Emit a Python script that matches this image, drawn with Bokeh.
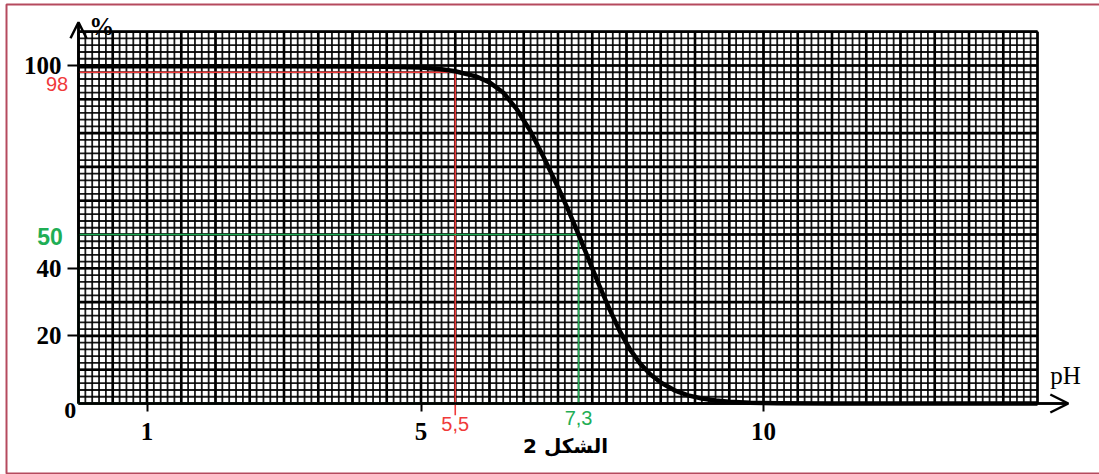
import numpy as np
from bokeh.plotting import figure
from bokeh.models import Range1d, LinearAxis, FixedTicker, Arrow, OpenHead, BoxAnnotation
from bokeh.core.properties import value
from bokeh.embed import file_html
from bokeh.resources import INLINE

# ---- data ----
ph = [0, 1, 2, 3, 4, 4.5, 5.0, 5.3, 5.5, 5.8, 6.0, 6.2, 6.4, 6.6, 6.8, 7.0, 7.15,
      7.3, 7.45, 7.6, 7.75, 7.9, 8.05, 8.2, 8.35, 8.5, 8.7, 8.9, 9.1, 9.3, 9.5,
      9.8, 10.2, 11, 12, 13, 14]
pct = [99.8, 99.8, 99.8, 99.8, 99.7, 99.6, 99.4, 98.9, 98.3, 96.8, 95.0, 92.0,
       87.0, 80.5, 72.5, 64.0, 57.2, 50.0, 42.5, 35.0, 28.0, 21.5, 16.0, 11.8,
       8.6, 6.2, 3.9, 2.4, 1.5, 0.9, 0.5, 0.25, 0.1, 0, 0, 0, 0]

x_ticks = [1, 5, 10]
y_ticks = [20, 40, 100]
ph_98, pct_98 = 5.5, 98      # red reading
ph_50, pct_50 = 7.3, 50      # green reading
ph_max, pct_max = 14, 110    # graph paper extent

RED = "#f03a3a"
GREEN = "#1fae55"
BORDER = "#b54a5e"

W, H = 1099, 474
PX_X, PX_Y = 68.5, 3.38
x0 = -78 / PX_X
y1 = 403 / PX_Y
p = figure(width=W, height=H,
           x_range=Range1d(x0, x0 + W / PX_X),
           y_range=Range1d(y1 - H / PX_Y, y1),
           output_backend="svg", toolbar_location=None,
           x_axis_location=None, y_axis_location=None,
           min_border=0, outline_line_color=None,
           background_fill_color="white", border_fill_color="white")
p.xgrid.visible = False
p.ygrid.visible = False

# page frame
p.add_layout(BoxAnnotation(left=6, right=W + 10, top=1, bottom=470,
                           left_units="screen", right_units="screen",
                           top_units="screen", bottom_units="screen",
                           fill_alpha=0, line_color=BORDER, line_alpha=1.0,
                           line_width=2))

# ---- graph paper (mm paper: 0.1 pH and 2 % per mm) ----
gx_minor = np.arange(0, ph_max + 1e-9, 0.1)
gy_minor = np.arange(0, pct_max + 1e-9, 2)
p.segment(x0=gx_minor, y0=0, x1=gx_minor, y1=pct_max, line_color="black",
          line_alpha=0.9, line_width=1.8)
p.segment(x0=0, y0=gy_minor, x1=ph_max, y1=gy_minor, line_color="black",
          line_alpha=0.9, line_width=1.8)
gx_half = np.arange(0, ph_max + 1e-9, 0.5)
gy_half = np.append(np.arange(0, pct_max + 1e-9, 10), pct_max)
p.segment(x0=gx_half, y0=0, x1=gx_half, y1=pct_max, line_color="black",
          line_width=2.6)
p.segment(x0=0, y0=gy_half, x1=ph_max, y1=gy_half, line_color="black",
          line_width=2.6)

# ---- reading lines ----
p.line([0, ph_98, ph_98], [pct_98, pct_98, -3.5], line_color=RED, line_width=1.6)
p.line([0, ph_50, ph_50, 0, 0], [pct_50, pct_50, 0, 0, pct_50],
       line_color=GREEN, line_width=1.6)

# ---- curve ----
p.line(ph, pct, line_color="black", line_width=4.5, line_join="round")

# ---- axes ----
lab_font = value("Liberation Serif")
xaxis = LinearAxis(fixed_location=0, ticker=FixedTicker(ticks=x_ticks),
                   bounds=(0, 14.4), axis_line_width=2.5, axis_line_color="black",
                   major_tick_out=8, major_tick_in=0, major_tick_line_width=2,
                   minor_tick_line_color=None, major_label_standoff=11,
                   major_label_text_font="Liberation Serif",
                   major_label_text_font_style="bold",
                   major_label_text_font_size="25px",
                   major_label_text_color="black")
p.add_layout(xaxis, "below")
yaxis = LinearAxis(fixed_location=0, ticker=FixedTicker(ticks=y_ticks),
                   bounds=(0, 112), axis_line_width=2.5, axis_line_color="black",
                   major_tick_out=11, major_tick_in=0, major_tick_line_width=2,
                   minor_tick_line_color=None, major_label_standoff=6,
                   major_label_text_font="Liberation Serif",
                   major_label_text_font_style="bold",
                   major_label_text_font_size="25px",
                   major_label_text_color="black")
p.add_layout(yaxis, "left")

p.add_layout(Arrow(end=OpenHead(size=16, line_width=2.5, line_color="black"),
                   x_start=0, y_start=pct_max, x_end=0, y_end=112.8,
                   line_width=2.5, line_color="black"))
p.add_layout(Arrow(end=OpenHead(size=18, line_width=2.5, line_color="black"),
                   x_start=ph_max, y_start=0, x_end=14.45, y_end=0,
                   line_width=2.5, line_color="black"))

# ---- texts ----
p.text(x=[-0.12], y=[-2.1], text=["0"], text_font=lab_font, text_font_style="bold",
       text_font_size="24px", text_align="center", text_baseline="middle")
p.text(x=[0.34], y=[111.5], text=["%"], text_font=lab_font, text_font_style="bold",
       text_font_size="25px", text_align="center", text_baseline="middle")
p.text(x=[14.41], y=[8.3], text=["pH"], text_font=lab_font,
       text_font_size="25px", text_align="center", text_baseline="middle")
p.text(x=[-0.15], y=[94.4], text=["98"], text_font=value("Liberation Sans"),
       text_font_size="20px", text_color=RED, text_align="right", text_baseline="middle")
p.text(x=[-0.23], y=[49.3], text=["50"], text_font=value("Liberation Sans"),
       text_font_style="bold", text_font_size="23px", text_color=GREEN,
       text_align="right", text_baseline="middle")
p.text(x=[ph_98], y=[-6.2], text=["5,5"], text_font=value("Liberation Sans"),
       text_font_size="20px", text_color=RED, text_align="center", text_baseline="middle")
p.text(x=[ph_50], y=[-4.4], text=["7,3"], text_font=value("Liberation Sans"),
       text_font_size="20px", text_color=GREEN, text_align="center", text_baseline="middle")
p.text(x=[7.11], y=[-12.7], text=["الشكل 2"], text_font=value("DejaVu Sans"),
       text_font_style="bold", text_font_size="20px", text_color="black",
       text_align="center", text_baseline="middle")

open("out.html", "w").write(file_html(p, INLINE))
